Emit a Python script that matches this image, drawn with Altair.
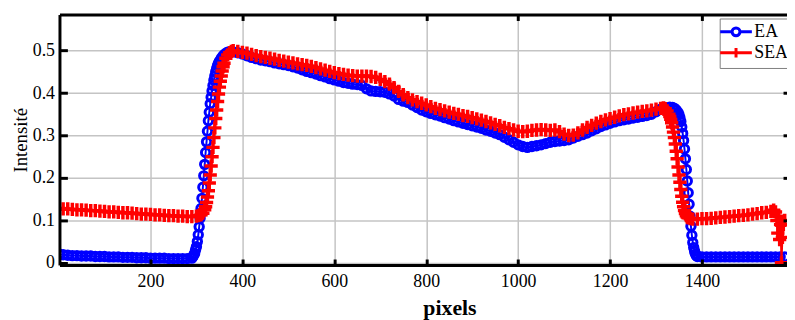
import altair as alt
import pandas as pd

# ---------------- data ----------------
ea_x = [1, 10, 20, 30, 40, 50, 60, 70, 80, 90, 100, 110, 120, 130, 140, 150, 160, 170, 180, 190,
        200, 210, 220, 230, 240, 250, 260, 270, 280, 290,
        292, 294, 296, 298, 300, 302, 304, 306, 308, 310, 312, 314, 316, 318, 320, 322, 324, 326,
        328, 330, 332, 334, 336, 338, 340, 342, 344, 346, 348, 350,
        354, 358, 362, 366, 370, 375, 380, 390,
        400, 410, 420, 430, 440, 450, 460, 470, 480, 490, 500, 510, 520, 530, 540, 550, 560, 570,
        580, 590, 600, 610, 620, 630, 640, 650, 660, 670, 680, 690, 700, 710, 720, 730, 740, 750,
        760, 770, 780, 790, 800, 810, 820, 830, 840, 850, 860, 870, 880, 890, 900, 910, 920, 930,
        940, 950, 960, 970, 980, 990, 1000, 1010, 1020, 1030, 1040, 1050, 1060, 1070, 1080, 1090,
        1100, 1110, 1120, 1130, 1140, 1150, 1160, 1170, 1180, 1190, 1200, 1210, 1220, 1230, 1240,
        1250, 1260, 1270, 1280, 1290, 1300, 1310, 1320, 1330,
        1336, 1340, 1344, 1348, 1350, 1352, 1354, 1356, 1358, 1360, 1362, 1364, 1366, 1368, 1370,
        1372, 1374, 1376, 1378, 1380, 1382, 1384, 1386, 1388, 1390,
        1400, 1410, 1420, 1430, 1440, 1450, 1460, 1470, 1480, 1490, 1500, 1510, 1520, 1530, 1540,
        1550, 1560, 1570, 1580]
ea_y = [.021, .019, .018, .017, .017, .016, .016, .016, .015, .015, .015, .014, .014, .014, .013,
        .013, .013, .012, .012, .012, .011, .011, .011, .011, .010, .010, .010, .010, .010, .011,
        .014, .018, .022, .030, .038, .050, .066, .085, .105, .128, .152, .178, .205, .232, .260,
        .285, .310, .335, .355, .375, .390, .405, .418, .430, .440, .450, .458, .465, .470, .475,
        .482, .488, .492, .495, .497, .498, .497, .495,
        .492, .488, .484, .481, .478, .476, .474, .471, .469, .467, .465, .462, .459, .455, .451,
        .448, .445, .441, .438, .434, .431, .428, .425, .423, .421, .420, .418, .410, .405, .404,
        .403, .402, .398, .393, .385, .381, .378, .372, .366, .360, .356, .352, .349, .346, .342,
        .339, .335, .332, .329, .326, .323, .320, .317, .313, .310, .306, .302, .296, .290, .284,
        .278, .274, .272, .274, .276, .278, .281, .284, .286, .287, .288, .290, .294, .298, .302,
        .306, .311, .316, .321, .325, .329, .332, .335, .337, .339, .341, .343, .345, .347, .350,
        .356, .362, .366, .367,
        .366, .364, .360, .354, .349, .342, .333, .320, .305, .288, .268, .245, .220, .193, .165,
        .138, .110, .086, .065, .048, .036, .027, .020, .017, .015,
        .014, .014, .014, .014, .014, .014, .014, .014, .014, .014, .014, .014, .014, .014, .014,
        .014, .014, .014, .014]

sea_x = [1, 10, 20, 30, 40, 50, 60, 70, 80, 90, 100, 110, 120, 130, 140, 150, 160, 170, 180, 190,
         200, 210, 220, 230, 240, 250, 260, 270, 280, 290,
         300, 305, 310, 314, 318, 320, 322, 324, 326, 328, 330, 332, 334, 336, 338, 340, 342, 344,
         346, 348, 350, 352, 354, 356, 358, 360, 364, 368, 372, 376, 380, 390,
         400, 410, 420, 430, 440, 450, 460, 470, 480, 490, 500, 510, 520, 530, 540, 550, 560, 570,
         580, 590, 600, 610, 620, 630, 640, 650, 660, 670, 680, 690, 700, 710, 720, 730, 740, 750,
         760, 770, 780, 790, 800, 810, 820, 830, 840, 850, 860, 870, 880, 890, 900, 910, 920, 930,
         940, 950, 960, 970, 980, 990, 1000, 1010, 1020, 1030, 1040, 1050, 1060, 1070, 1080, 1090,
         1100, 1110, 1120, 1130, 1140, 1150, 1160, 1170, 1180, 1190, 1200, 1210, 1220, 1230, 1240,
         1250, 1260, 1270, 1280, 1290, 1300, 1310,
         1316, 1320, 1324, 1328, 1330, 1332, 1334, 1336, 1338, 1340, 1342, 1344, 1346, 1348, 1350,
         1352, 1354, 1356, 1358, 1360, 1362, 1364, 1366, 1368, 1370, 1375, 1380, 1390,
         1400, 1410, 1420, 1430, 1440, 1450, 1460, 1470, 1480, 1490, 1500, 1510, 1520, 1530, 1540,
         1550, 1556, 1560, 1563, 1565, 1567, 1569, 1571, 1573, 1575, 1577, 1580]
sea_y = [.128, .127, .127, .126, .125, .125, .124, .123, .123, .122, .121, .120, .120, .119, .118,
         .118, .117, .116, .115, .115, .114, .113, .113, .112, .111, .111, .110, .110, .109, .109,
         .110, .111, .113, .117, .125, .132, .142, .155, .170, .188, .207, .228, .250, .272, .295,
         .318, .340, .360, .380, .398, .414, .428, .440, .452, .462, .470, .482, .490, .495, .498,
         .500, .498,
         .496, .494, .491, .488, .486, .484, .482, .480, .477, .475, .473, .471, .469, .467, .465,
         .463, .460, .457, .454, .451, .448, .446, .444, .442, .441, .440, .440, .440, .439, .437,
         .432, .427, .421, .413, .404, .396, .389, .384, .380, .376, .372, .368, .364, .361, .358,
         .355, .352, .350, .347, .345, .342, .339, .336, .333, .330, .326, .323, .319, .316, .313,
         .310, .309, .310, .312, .313, .314, .313, .312, .313, .309, .303, .300, .301, .306, .313,
         .319, .324, .329, .333, .337, .340, .343, .346, .349, .351, .353, .355, .357, .358, .360,
         .362, .364,
         .365, .363, .358, .350, .345, .338, .330, .320, .308, .295, .280, .263, .245, .226, .207,
         .190, .173, .157, .143, .132, .123, .116, .111, .108, .106, .104, .103, .103,
         .104, .104, .105, .106, .107, .108, .109, .110, .111, .112, .113, .115, .116, .118, .119,
         .121, .124, .120, .100, .070, .110, .055, .090, .000, .060, .090, .100]

series = ["EA", "SEA"]
series_colors = ["#0000ff", "#ff0000"]
x_tick_values = [200, 400, 600, 800, 1000, 1200, 1400]
y_tick_values = [0, 0.1, 0.2, 0.3, 0.4, 0.5]
x_title = "pixels"
y_title = "Intensité"

# ---------------- styling ----------------
FONT = "Liberation Serif"
PLUS = "M-1,0L1,0M0,-1L0,1"
LEG_EA = "M-2,0L-0.5,0M0.5,0L2,0M0.5,0A0.5,0.5,0,1,1,-0.5,0A0.5,0.5,0,1,1,0.5,0"
LEG_SEA = "M-2,0L2,0M0,-0.6L0,0.6"

ea = pd.DataFrame({"px": ea_x, "val": ea_y, "serie": series[0]})
sea = pd.DataFrame({"px": sea_x, "val": sea_y, "serie": series[1]})
both = pd.concat([ea, sea], ignore_index=True)

xscale = alt.Scale(domain=[2, 1585], nice=False, zero=False)
yscale = alt.Scale(domain=[-0.005, 0.585], nice=False, zero=False)


def ax(orient, values, **kw):
    base = dict(orient=orient, values=values, grid=False, labels=False, ticks=False,
                domain=False, zindex=1)
    base.update(kw)
    return alt.Axis(**base)


FRAME = dict(domain=True, domainColor="black", domainWidth=3)


def inward(n):
    return dict(ticks=True, tickColor="black", tickWidth=3, tickSize=n, offset=-n)


GRID = dict(grid=True, gridColor="#c4c4c4", gridWidth=1.5)
LAB = dict(labels=True, labelFont=FONT, labelFontSize=18, labelColor="black")

# layer 1: EA line + grid, labels, titles
l1 = alt.Chart(ea).mark_line(color=series_colors[0], strokeWidth=2, clip=True).encode(
    x=alt.X("px:Q", scale=xscale, title=x_title,
            axis=ax("bottom", x_tick_values, zindex=0, format="d", labelPadding=8,
                    titleFont=FONT, titleFontSize=22, titleFontWeight="bold", titleColor="black",
                    titleX=394, titleY=50, titleBaseline="alphabetic", **GRID, **LAB)),
    y=alt.Y("val:Q", scale=yscale, title=y_title,
            axis=ax("left", y_tick_values, zindex=0, format="~g", labelPadding=5,
                    titleFont=FONT, titleFontSize=19, titleFontWeight="normal", titleColor="black",
                    titleX=-33, titleY=126.5, titleAngle=270, titleBaseline="alphabetic",
                    **GRID, **LAB)),
)

# layer 2: EA markers + bottom/left frame
l2 = alt.Chart(ea).mark_point(shape="circle", filled=False, color=series_colors[0], size=72,
                              strokeWidth=3, opacity=1, clip=True).encode(
    x=alt.X("px:Q", scale=xscale, title=None, axis=ax("bottom", x_tick_values, **FRAME)),
    y=alt.Y("val:Q", scale=yscale, title=None, axis=ax("left", y_tick_values, **FRAME)),
)

# layer 3: SEA line + top frame + right ticks
l3 = alt.Chart(sea).mark_line(color=series_colors[1], strokeWidth=2, clip=True).encode(
    x=alt.X("px:Q", scale=xscale, title=None, axis=ax("top", x_tick_values, **FRAME)),
    y=alt.Y("val:Q", scale=yscale, title=None, axis=ax("right", y_tick_values, **inward(4))),
)

# layer 4: SEA markers + inward ticks bottom/left
l4 = alt.Chart(sea).mark_point(shape=PLUS, filled=False, color=series_colors[1], size=180,
                               strokeWidth=3.5, opacity=1, clip=True).encode(
    x=alt.X("px:Q", scale=xscale, title=None, axis=ax("bottom", x_tick_values, **inward(6))),
    y=alt.Y("val:Q", scale=yscale, title=None, axis=ax("left", y_tick_values, **inward(8))),
)

# layer 5: legend carrier (zero-size points) + top inward ticks
leg = alt.Legend(orient="none", legendX=667, legendY=4, title=None, fillColor="white",
                 strokeColor="#808080", padding=4, labelFont=FONT, labelFontSize=18,
                 labelColor="black", symbolSize=256, symbolStrokeWidth=3, symbolOffset=3,
                 labelOffset=9, rowPadding=-1, cornerRadius=0, zindex=2)
l5 = alt.Chart(both).mark_point(filled=False, strokeWidth=3, opacity=1, clip=True).encode(
    x=alt.X("px:Q", scale=xscale, title=None, axis=ax("top", x_tick_values, **inward(6))),
    y=alt.Y("val:Q", scale=yscale, title=None, axis=None),
    color=alt.Color("serie:N", scale=alt.Scale(domain=series, range=series_colors), legend=leg),
    shape=alt.Shape("serie:N", scale=alt.Scale(domain=series, range=[LEG_EA, LEG_SEA]), legend=leg),
    size=alt.value(0),
)

chart = alt.layer(l1, l2, l3, l4, l5).resolve_axis(
    x="independent", y="independent"
).properties(
    width=735, height=253,
    autosize=alt.AutoSizeParams(type="none"),
    padding={"left": 52, "top": 5, "right": 0, "bottom": 54},
    background="white",
).configure_view(stroke=None)

chart.save("out.html", embed_options={"renderer": "svg", "actions": False})
